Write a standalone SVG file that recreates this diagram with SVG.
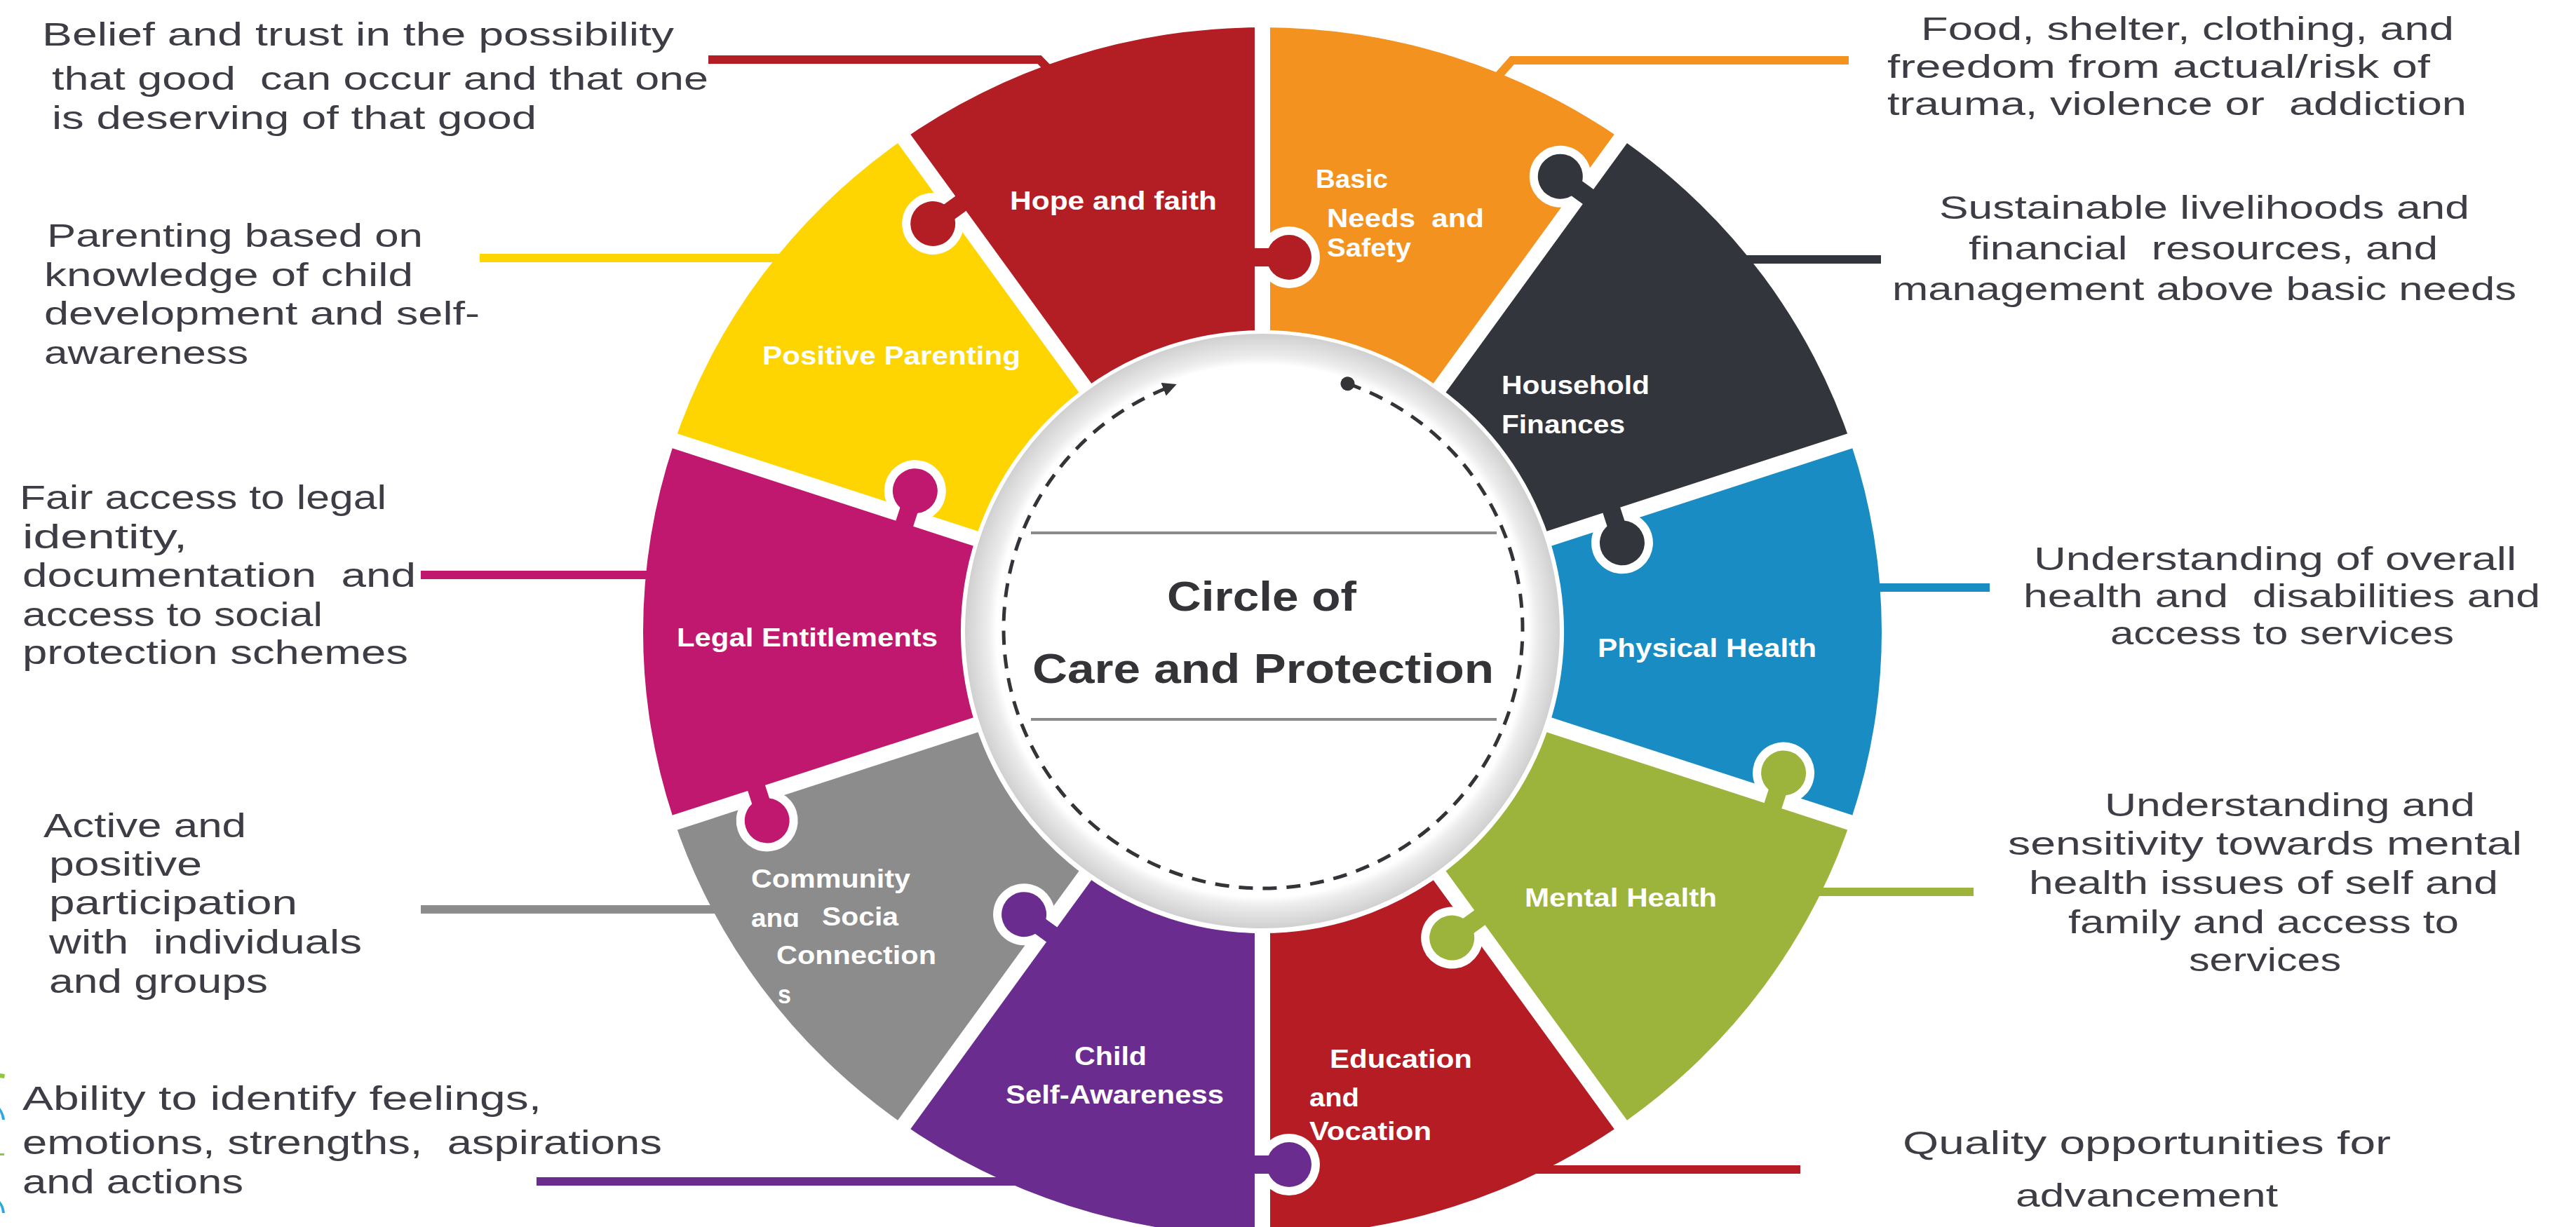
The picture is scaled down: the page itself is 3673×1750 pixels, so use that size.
<svg xmlns="http://www.w3.org/2000/svg" width="3673" height="1750" viewBox="0 0 3673 1750">
<style>
.lbl{font-family:"Liberation Sans",Arial,sans-serif;font-weight:bold;font-size:36px;fill:#ffffff}
.desc{font-family:"Liberation Sans",Arial,sans-serif;font-size:47px;fill:#3d3d45;white-space:pre}
.big{font-size:48px}
.ctr{font-family:"Liberation Sans",Arial,sans-serif;font-weight:bold;font-size:60px;fill:#333338}
.lead{fill:none;stroke-width:12}
.gap{stroke:#ffffff;stroke-width:22}
.kw{fill:#ffffff}
</style>
<defs>
<radialGradient id="ringGrad" cx="0.5" cy="0.5" r="0.5">
<stop offset="0" stop-color="#ffffff"/>
<stop offset="0.895" stop-color="#ffffff"/>
<stop offset="0.925" stop-color="#ececec"/>
<stop offset="1" stop-color="#d0d0d0"/>
</radialGradient>
<marker id="arrow" viewBox="0 0 10 10" refX="5" refY="5" markerWidth="4" markerHeight="4" orient="auto">
<path d="M0,0 L10,5 L0,10 z" fill="#333338"/>
</marker>
<marker id="dot" viewBox="0 0 10 10" refX="5" refY="5" markerWidth="4" markerHeight="4" orient="auto">
<circle cx="5" cy="5" r="5" fill="#333338"/>
</marker>
<clipPath id="andClip"><rect x="1060" y="1302" width="100" height="40"/></clipPath>
</defs>
<rect width="3673" height="1750" fill="#ffffff"/>

<g id="connectors">
<polyline class="lead" stroke="#B21E23" stroke-width="13" points="1010,85 1482,85 1514,118"/>
<polyline class="lead" stroke="#F4921F" points="2636,86 2156,86 2126,120"/>
<line class="lead" stroke="#33353D" x1="2460" y1="370" x2="2682" y2="370"/>
<line class="lead" stroke="#1A8CC4" x1="2660" y1="838" x2="2837" y2="838"/>
<line class="lead" stroke="#9CB43B" x1="2580" y1="1272" x2="2814" y2="1272"/>
<line class="lead" stroke="#B51C24" x1="2190" y1="1668" x2="2567" y2="1668"/>
<line class="lead" stroke="#6B2C8F" x1="765" y1="1685" x2="1450" y2="1685"/>
<line class="lead" stroke="#8C8C8C" x1="600" y1="1297" x2="1030" y2="1297"/>
<line class="lead" stroke="#C1186F" x1="600" y1="820" x2="945" y2="820"/>
<line class="lead" stroke="#FED500" x1="684" y1="368" x2="1130" y2="368"/>
</g>

<g id="node-hope"><path fill="#B21E23" d="M1547.3 553.1 L1281 203.6 A883 862 0 0 1 1800 39 L1800 471 A430 430 0 0 0 1547.3 553.1 Z"/></g>
<g id="node-basic"><path fill="#F4921F" d="M1800 471 L1800 39 A883 862 0 0 1 2319 203.6 L2052.7 553.1 A430 430 0 0 0 1800 471 Z"/></g>
<g id="node-household"><path fill="#33353D" d="M2052.7 553.1 L2319 203.6 A883 862 0 0 1 2639.8 634.6 L2209 768.1 A430 430 0 0 0 2052.7 553.1 Z"/></g>
<g id="node-physical"><path fill="#1A8CC4" d="M2209 768.1 L2639.8 634.6 A883 862 0 0 1 2639.8 1167.4 L2209 1033.9 A430 430 0 0 0 2209 768.1 Z"/></g>
<g id="node-mental"><path fill="#9CB43B" d="M2209 1033.9 L2639.8 1167.4 A883 862 0 0 1 2319 1598.4 L2052.7 1248.9 A430 430 0 0 0 2209 1033.9 Z"/></g>
<g id="node-education"><path fill="#B51C24" d="M2052.7 1248.9 L2319 1598.4 A883 862 0 0 1 1800 1763 L1800 1331 A430 430 0 0 0 2052.7 1248.9 Z"/></g>
<g id="node-child"><path fill="#6B2C8F" d="M1800 1331 L1800 1763 A883 862 0 0 1 1281 1598.4 L1547.3 1248.9 A430 430 0 0 0 1800 1331 Z"/></g>
<g id="node-community"><path fill="#8C8C8C" d="M1547.3 1248.9 L1281 1598.4 A883 862 0 0 1 960.2 1167.4 L1391 1033.9 A430 430 0 0 0 1547.3 1248.9 Z"/></g>
<g id="node-legal"><path fill="#C1186F" d="M1391 1033.9 L960.2 1167.4 A883 862 0 0 1 960.2 634.6 L1391 768.1 A430 430 0 0 0 1391 1033.9 Z"/></g>
<g id="node-parenting"><path fill="#FED500" d="M1391 768.1 L960.2 634.6 A883 862 0 0 1 1281 203.6 L1547.3 553.1 A430 430 0 0 0 1391 768.1 Z"/></g>

<g id="seams" transform="translate(1800 901)">
<line class="gap" x1="400" y1="0" x2="895" y2="0" transform="rotate(-90)"/>
<line class="gap" x1="400" y1="0" x2="895" y2="0" transform="rotate(-54)"/>
<line class="gap" x1="400" y1="0" x2="895" y2="0" transform="rotate(-18)"/>
<line class="gap" x1="400" y1="0" x2="895" y2="0" transform="rotate(18)"/>
<line class="gap" x1="400" y1="0" x2="895" y2="0" transform="rotate(54)"/>
<line class="gap" x1="400" y1="0" x2="895" y2="0" transform="rotate(90)"/>
<line class="gap" x1="400" y1="0" x2="895" y2="0" transform="rotate(126)"/>
<line class="gap" x1="400" y1="0" x2="895" y2="0" transform="rotate(162)"/>
<line class="gap" x1="400" y1="0" x2="895" y2="0" transform="rotate(198)"/>
<line class="gap" x1="400" y1="0" x2="895" y2="0" transform="rotate(234)"/>
</g>

<g id="knobs" transform="translate(1800 901)">
<g transform="rotate(-90)" fill="#B21E23"><circle class="kw" cx="534" cy="38" r="44"/><rect x="521" y="-14" width="26" height="52"/><circle cx="534" cy="38" r="32"/></g>
<g transform="rotate(-54)" fill="#33353D"><circle class="kw" cx="775" cy="-38" r="44"/><rect x="762" y="-38" width="26" height="52"/><circle cx="775" cy="-38" r="32"/></g>
<g transform="rotate(-18)" fill="#33353D"><circle class="kw" cx="527" cy="38" r="44"/><rect x="514" y="-14" width="26" height="52"/><circle cx="527" cy="38" r="32"/></g>
<g transform="rotate(18)" fill="#9CB43B"><circle class="kw" cx="769" cy="-38" r="44"/><rect x="756" y="-38" width="26" height="52"/><circle cx="769" cy="-38" r="32"/></g>
<g transform="rotate(54)" fill="#9CB43B"><circle class="kw" cx="512" cy="38" r="44"/><rect x="499" y="-14" width="26" height="52"/><circle cx="512" cy="38" r="32"/></g>
<g transform="rotate(90)" fill="#6B2C8F"><circle class="kw" cx="760" cy="-38" r="44"/><rect x="747" y="-38" width="26" height="52"/><circle cx="760" cy="-38" r="32"/></g>
<g transform="rotate(126)" fill="#6B2C8F"><circle class="kw" cx="526" cy="38" r="44"/><rect x="513" y="-14" width="26" height="52"/><circle cx="526" cy="38" r="32"/></g>
<g transform="rotate(162)" fill="#C1186F"><circle class="kw" cx="755" cy="-38" r="44"/><rect x="742" y="-38" width="26" height="52"/><circle cx="755" cy="-38" r="32"/></g>
<g transform="rotate(198)" fill="#C1186F"><circle class="kw" cx="533" cy="38" r="44"/><rect x="520" y="-14" width="26" height="52"/><circle cx="533" cy="38" r="32"/></g>
<g transform="rotate(234)" fill="#B21E23"><circle class="kw" cx="747" cy="-38" r="44"/><rect x="734" y="-38" width="26" height="52"/><circle cx="747" cy="-38" r="32"/></g>
</g>

<g id="node-center">
<circle cx="1800" cy="900" r="424" fill="url(#ringGrad)"/>
<path d="M1921.5 547.2 A370 370 0 1 1 1668.4 551.6" fill="none" stroke="#333338" stroke-width="5" stroke-dasharray="20 14" marker-start="url(#dot)" marker-end="url(#arrow)"/>
<line x1="1470" y1="760" x2="2134" y2="760" stroke="#8a8a8a" stroke-width="4"/>
<line x1="1470" y1="1026" x2="2134" y2="1026" stroke="#8a8a8a" stroke-width="4"/>
<text class="ctr" x="1664" y="871" textLength="270" lengthAdjust="spacingAndGlyphs">Circle of</text>
<text class="ctr" x="1472" y="974" textLength="658" lengthAdjust="spacingAndGlyphs">Care and Protection</text>
</g>

<g id="labels">
<text class="lbl" x="1440" y="299" textLength="295" lengthAdjust="spacingAndGlyphs">Hope and faith</text>
<text class="lbl" x="1876" y="268" textLength="103" lengthAdjust="spacingAndGlyphs">Basic</text>
<text class="lbl" x="1892" y="324" textLength="224" lengthAdjust="spacingAndGlyphs" style="white-space:pre">Needs  and</text>
<text class="lbl" x="1892" y="366" textLength="120" lengthAdjust="spacingAndGlyphs">Safety</text>
<text class="lbl" x="2141" y="562" textLength="211" lengthAdjust="spacingAndGlyphs">Household</text>
<text class="lbl" x="2141" y="618" textLength="176" lengthAdjust="spacingAndGlyphs">Finances</text>
<text class="lbl" x="1087" y="520" textLength="368" lengthAdjust="spacingAndGlyphs">Positive Parenting</text>
<text class="lbl" x="965" y="922" textLength="372" lengthAdjust="spacingAndGlyphs">Legal Entitlements</text>
<text class="lbl" x="2278" y="937" textLength="312" lengthAdjust="spacingAndGlyphs">Physical Health</text>
<text class="lbl" x="2174" y="1293" textLength="274" lengthAdjust="spacingAndGlyphs">Mental Health</text>
<text class="lbl" x="1896" y="1523" textLength="203" lengthAdjust="spacingAndGlyphs">Education</text>
<text class="lbl" x="1867" y="1578" textLength="71" lengthAdjust="spacingAndGlyphs">and</text>
<text class="lbl" x="1867" y="1626" textLength="174" lengthAdjust="spacingAndGlyphs">Vocation</text>
<text class="lbl" x="1532" y="1519" textLength="103" lengthAdjust="spacingAndGlyphs">Child</text>
<text class="lbl" x="1434" y="1574" textLength="311" lengthAdjust="spacingAndGlyphs">Self-Awareness</text>
<text class="lbl" x="1071" y="1266" textLength="227" lengthAdjust="spacingAndGlyphs">Community</text>
<text class="lbl" x="1071" y="1322" textLength="69" lengthAdjust="spacingAndGlyphs" clip-path="url(#andClip)">and</text>
<text class="lbl" x="1172" y="1320" textLength="109" lengthAdjust="spacingAndGlyphs">Socia</text>
<text class="lbl" x="1107" y="1375" textLength="228" lengthAdjust="spacingAndGlyphs">Connection</text>
<text class="lbl" x="1109" y="1431" textLength="19" lengthAdjust="spacingAndGlyphs">s</text>
</g>

<g id="desc-hope">
<text class="desc" x="60" y="65" textLength="901" lengthAdjust="spacingAndGlyphs">Belief and trust in the possibility</text>
<text class="desc" x="74" y="128" textLength="936" lengthAdjust="spacingAndGlyphs">that good  can occur and that one</text>
<text class="desc" x="74" y="184" textLength="691" lengthAdjust="spacingAndGlyphs">is deserving of that good</text>
</g>
<g id="desc-parenting">
<text class="desc" x="67" y="352" textLength="536" lengthAdjust="spacingAndGlyphs">Parenting based on</text>
<text class="desc" x="63" y="408" textLength="526" lengthAdjust="spacingAndGlyphs">knowledge of child</text>
<text class="desc" x="63" y="463" textLength="621" lengthAdjust="spacingAndGlyphs">development and self-</text>
<text class="desc" x="63" y="519" textLength="291" lengthAdjust="spacingAndGlyphs">awareness</text>
</g>
<g id="desc-legal">
<text class="desc big" x="28" y="726" textLength="523" lengthAdjust="spacingAndGlyphs">Fair access to legal</text>
<text class="desc big" x="32" y="782" textLength="235" lengthAdjust="spacingAndGlyphs">identity,</text>
<text class="desc big" x="32" y="837" textLength="561" lengthAdjust="spacingAndGlyphs">documentation  and</text>
<text class="desc big" x="32" y="893" textLength="428" lengthAdjust="spacingAndGlyphs">access to social</text>
<text class="desc big" x="32" y="947" textLength="550" lengthAdjust="spacingAndGlyphs">protection schemes</text>
</g>
<g id="desc-community">
<text class="desc big" x="62" y="1194" textLength="289" lengthAdjust="spacingAndGlyphs">Active and</text>
<text class="desc big" x="70" y="1249" textLength="218" lengthAdjust="spacingAndGlyphs">positive</text>
<text class="desc big" x="70" y="1304" textLength="354" lengthAdjust="spacingAndGlyphs">participation</text>
<text class="desc big" x="70" y="1360" textLength="446" lengthAdjust="spacingAndGlyphs">with  individuals</text>
<text class="desc big" x="70" y="1416" textLength="312" lengthAdjust="spacingAndGlyphs">and groups</text>
</g>
<g id="desc-child">
<text class="desc big" x="32" y="1583" textLength="740" lengthAdjust="spacingAndGlyphs">Ability to identify feelings,</text>
<text class="desc big" x="32" y="1646" textLength="912" lengthAdjust="spacingAndGlyphs">emotions, strengths,  aspirations</text>
<text class="desc big" x="32" y="1702" textLength="315" lengthAdjust="spacingAndGlyphs">and actions</text>
</g>
<g id="desc-basic">
<text class="desc" x="2739" y="57" textLength="760" lengthAdjust="spacingAndGlyphs">Food, shelter, clothing, and</text>
<text class="desc" x="2691" y="111" textLength="774" lengthAdjust="spacingAndGlyphs">freedom from actual/risk of</text>
<text class="desc" x="2691" y="164" textLength="826" lengthAdjust="spacingAndGlyphs">trauma, violence or  addiction</text>
</g>
<g id="desc-household">
<text class="desc" x="2765" y="312" textLength="756" lengthAdjust="spacingAndGlyphs">Sustainable livelihoods and</text>
<text class="desc" x="2807" y="370" textLength="669" lengthAdjust="spacingAndGlyphs">financial  resources, and</text>
<text class="desc" x="2698" y="428" textLength="890" lengthAdjust="spacingAndGlyphs">management above basic needs</text>
</g>
<g id="desc-physical">
<text class="desc" x="2900" y="813" textLength="688" lengthAdjust="spacingAndGlyphs">Understanding of overall</text>
<text class="desc" x="2885" y="866" textLength="737" lengthAdjust="spacingAndGlyphs">health and  disabilities and</text>
<text class="desc" x="3009" y="919" textLength="490" lengthAdjust="spacingAndGlyphs">access to services</text>
</g>
<g id="desc-mental">
<text class="desc" x="3001" y="1164" textLength="528" lengthAdjust="spacingAndGlyphs">Understanding and</text>
<text class="desc" x="2863" y="1219" textLength="733" lengthAdjust="spacingAndGlyphs">sensitivity towards mental</text>
<text class="desc" x="2893" y="1275" textLength="669" lengthAdjust="spacingAndGlyphs">health issues of self and</text>
<text class="desc" x="2949" y="1331" textLength="557" lengthAdjust="spacingAndGlyphs">family and access to</text>
<text class="desc" x="3121" y="1385" textLength="217" lengthAdjust="spacingAndGlyphs">services</text>
</g>
<g id="desc-education">
<text class="desc" x="2713" y="1646" textLength="696" lengthAdjust="spacingAndGlyphs">Quality opportunities for</text>
<text class="desc" x="2874" y="1721" textLength="374" lengthAdjust="spacingAndGlyphs">advancement</text>
</g>

<g id="edge-marks">
<path d="M0 1531 L7 1532 L6 1538 L0 1537 Z" fill="#8DC63F"/>
<path d="M0 1580 Q6 1588 7 1597 L3 1597 Q2 1590 0 1586 Z" fill="#29A9E0"/>
<path d="M0 1645 L6 1645 L6 1648 L0 1648 Z" fill="#8DC63F"/>
<path d="M0 1713 Q6 1720 7 1730 L3 1730 Q2 1722 0 1719 Z" fill="#29A9E0"/>
</g>
</svg>
